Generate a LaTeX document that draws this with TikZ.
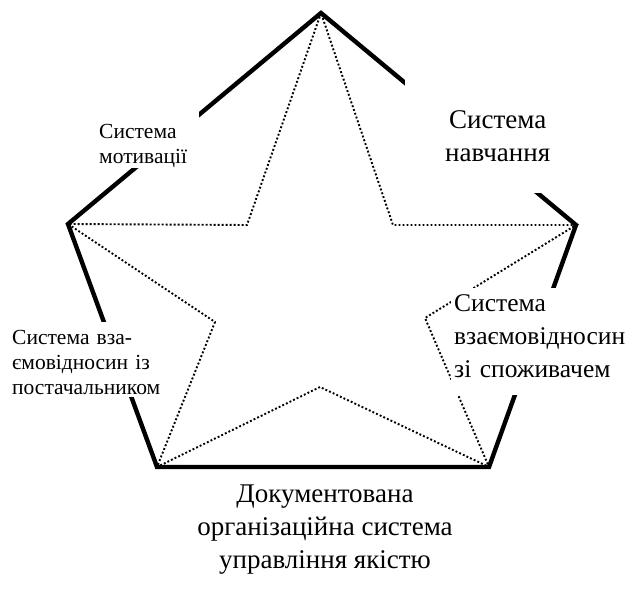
\documentclass[tikz,border=0pt]{standalone}
\usepackage{fontspec}
\setmainfont{Liberation Serif}
\usetikzlibrary{positioning}
\tikzset{
  rim/.style={line width=4.4pt, line join=miter},
  ray/.style={line width=1.9pt, dash pattern=on 1.9pt off 2.1pt},
  cover/.style={rectangle, fill=white, anchor=north west, inner xsep=4pt, inner ysep=0pt},
  bigtext/.style={font=\fontsize{27}{33}\selectfont},
  smalltext/.style={font=\fontsize{21.5}{25}\selectfont}
}

\begin{document}
\begin{tikzpicture}[x=1pt, y=-1pt]
  \useasboundingbox (0,0) rectangle (632,599);
  \coordinate (top) at (321,13);
  \coordinate (left) at (68,224);
  \coordinate (right) at (576,225);
  \coordinate (botleft) at (157,467);
  \coordinate (botright) at (489,467);
  \coordinate (inul) at (247,225);
  \coordinate (inur) at (393,225);
  \coordinate (inl) at (215,322);
  \coordinate (inr) at (425,318);
  \coordinate (inb) at (320,387);

  \draw[rim] (top) -- (left) -- (botleft) -- (botright) -- (right) -- cycle;
  \draw[ray] (top) -- (inul) -- (left) -- (inl) -- (botleft) -- (inb)
    -- (botright) -- (inr) -- (right) -- (inur) -- cycle;

  \node[cover, smalltext, text width=96pt, text height=30pt, text depth=30pt,
    align=left] (motiv) at (95,108) {Система\\мотивації};
  \node[cover, bigtext, text width=177pt, text height=50pt, text depth=65pt,
    align=center] (learn) at (405,78) {Система\\навчання};
  \node[cover, bigtext, font=\fontsize{25.5}{33}\selectfont, inner xsep=3pt,
    text width=175pt, text height=23pt, text depth=84pt, align=left] (client)
    at (451,288) {Система\\взаємовідносин\\зі споживачем};
  \node[cover, smalltext, text width=154pt, text height=22pt, text depth=53pt,
    align=left] (supply) at (8,322) {Система вза-\\ємовідносин із\\постачальником};
  \node[bigtext, align=center, inner sep=0pt] (docs) at (325,530)
    {Документована\\організаційна система\\управління якістю};
\end{tikzpicture}
\end{document}
